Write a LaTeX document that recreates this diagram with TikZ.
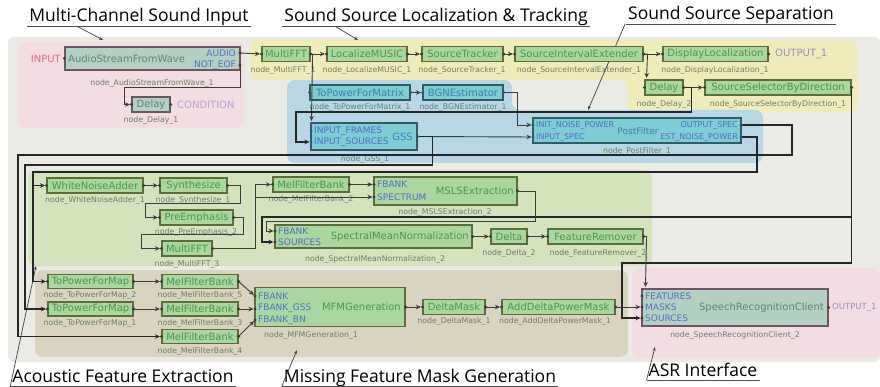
\documentclass[tikz,border=0pt]{standalone}
\usepackage{fontspec}
\usetikzlibrary{arrows.meta}

\newfontfamily\harkfont{DejaVu Sans}
\newfontfamily\titlefont{Open Sans}

\definecolor{fond}{HTML}{ECEAE4}
\definecolor{rose}{HTML}{F3DCE2}
\definecolor{jaune}{HTML}{F0ECB9}
\definecolor{bleu}{HTML}{B7D7E6}
\definecolor{vert}{HTML}{D4E2BE}
\definecolor{beige}{HTML}{DAD3C0}
\definecolor{grnfill}{HTML}{A9D79F}
\definecolor{grnline}{HTML}{5A6E3C}
\definecolor{grntext}{HTML}{4A954A}
\definecolor{bluefill}{HTML}{7DCDD2}
\definecolor{blueline}{HTML}{325A64}
\definecolor{bluetext}{HTML}{3C82AA}
\definecolor{grayfill}{HTML}{B4D0C3}
\definecolor{grayline}{HTML}{695564}
\definecolor{graytext}{HTML}{5A8278}
\definecolor{porttext}{HTML}{506EC8}
\definecolor{idtext}{HTML}{6E7D69}
\definecolor{wirecol}{HTML}{3C3C3C}
\definecolor{inputcol}{HTML}{E66E82}
\definecolor{condcol}{HTML}{BEA0D2}
\definecolor{outcol}{HTML}{9A8CC8}

\begin{document}
\begin{tikzpicture}[x=1pt, y=-1pt, >={Stealth[length=5pt, width=4.5pt]},
    mod node/.style={draw, line width=1.1pt, inner sep=0pt, minimum height=15pt, font=\harkfont\fontsize{10}{10}\selectfont},
    green node/.style={mod node, fill=grnfill, draw=grnline, text=grntext},
    blue node/.style={mod node, fill=bluefill, draw=blueline, text=bluetext},
    gray node/.style={mod node, fill=grayfill, draw=grayline, text=graytext},
    name text/.style={inner sep=0pt, font=\harkfont\fontsize{10}{10}\selectfont},
    port text/.style={inner sep=0pt, text=porttext, font=\harkfont\fontsize{9}{9}\selectfont},
    small port/.style={port text, font=\harkfont\fontsize{8}{8}\selectfont},
    id node/.style={inner sep=0pt, text=idtext, font=\harkfont\fontsize{7.8}{7.8}\selectfont},
    wire/.style={draw=wirecol, line width=0.9pt, ->, shorten >=1.5pt},
    bus/.style={wire, draw=black!85, line width=1.4pt},
    title node/.style={inner xsep=2pt, inner ysep=0.5pt, text depth=3.5pt, font=\titlefont\fontsize{17.5}{17.5}\selectfont},
    pointer/.style={draw=black!75, line width=0.7pt, -{Stealth[length=4pt, width=3pt]}}]

    \useasboundingbox (0,0) rectangle (880,387);

    % fond et zones
    \fill[fond, rounded corners=6pt] (8,37) rectangle (880,362);
    \fill[rose, rounded corners=8pt] (18,42) rectangle (244,128);
    \fill[jaune, rounded corners=8pt] (250,40) -- (858,40) -- (858,112) -- (628,112) -- (628,80) -- (250,80) -- cycle;
    \fill[bleu, rounded corners=8pt] (287,80) -- (512,80) -- (512,110) -- (763,110) -- (763,163) -- (287,163) -- cycle;
    \fill[vert, rounded corners=8pt] (28,170) rectangle (652,266);
    \fill[beige, rounded corners=8pt] (35,270) rectangle (628,357);
    \fill[rose, rounded corners=8pt] (632,268) rectangle (880,358);

    % titres
    \node[title node, anchor=base] (t-input) at (139,22) {Multi-Channel Sound Input};
    \node[title node, anchor=base] (t-loc) at (436,22) {Sound Source Localization \& Tracking};
    \node[title node, anchor=base] (t-sep) at (731,20) {Sound Source Separation};
    \node[title node, anchor=base] (t-feat) at (123,382) {Acoustic Feature Extraction};
    \node[title node, anchor=base] (t-mask) at (420,382) {Missing Feature Mask Generation};
    \node[title node, anchor=base] (t-asr) at (703,376) {ASR Interface};

    \draw[line width=0.8pt, black!70] (t-input.south west) -- (t-input.south east);
    \draw[line width=0.8pt, black!70] (t-loc.south west) -- (t-loc.south east);
    \draw[line width=0.8pt, black!70] (t-sep.south west) -- (t-sep.south east);
    \draw[line width=0.8pt, black!70] (t-feat.south west) -- (t-feat.south east);
    \draw[line width=0.8pt, black!70] (t-mask.south west) -- (t-mask.south east);
    \draw[line width=0.8pt, black!70] (t-asr.south west) -- (t-asr.south east);

    \coordinate (p-input) at (103,40);
    \coordinate (p-loc) at (358,40);
    \coordinate (p-sep) at (588,110);
    \coordinate (p-feat) at (36,266);
    \coordinate (p-mask) at (297,350);
    \coordinate (p-asr) at (655,347);
    \draw[pointer] ([xshift=-62pt]t-input.south) -- (p-input);
    \draw[pointer] ([xshift=-101pt]t-loc.south) -- (p-loc);
    \draw[pointer] ([xshift=-106pt]t-sep.south) -- (p-sep);
    \draw[pointer] (t-feat.south west) -- (p-feat);
    \draw[pointer] (t-mask.south west) -- (p-mask);
    \draw[pointer] (t-asr.south west) -- (p-asr);

    % entree multicanal
    \node[gray node, minimum width=175pt, minimum height=23pt] (asfw) at (152.5,58.5) {};
    \node[name text, text=graytext, anchor=west] (asfw-name) at (68,58.5) {AudioStreamFromWave};
    \coordinate (asfw-audio) at (240,53);
    \coordinate (asfw-eof) at (240,65);
    \node[port text, anchor=east] (asfw-p1) at (236,53) {AUDIO};
    \node[port text, anchor=east] (asfw-p2) at (236,65) {NOT\_EOF};
    \node[name text, text=inputcol, anchor=east] (input) at (61,58.5) {INPUT};
    \node[id node] (asfw-id) at (152,83) {node\_AudioStreamFromWave\_1};
    \node[gray node, minimum width=38pt] (delay1) at (151,104.5) {Delay};
    \node[name text, text=condcol, anchor=west] (cond) at (177,104.5) {CONDITION};
    \node[id node] (delay1-id) at (151,120) {node\_Delay\_1};

    % localisation et suivi
    \node[green node, minimum width=48pt] (mfft1) at (286,54) {MultiFFT};
    \node[green node, minimum width=80pt] (locmusic) at (367,54) {LocalizeMUSIC};
    \node[green node, minimum width=81pt] (srctrack) at (462.5,54) {SourceTracker};
    \node[green node, minimum width=128pt] (sie) at (579,54) {SourceIntervalExtender};
    \node[green node, minimum width=105pt] (disploc) at (715.5,54) {DisplayLocalization};
    \node[name text, text=outcol, anchor=west] (out1) at (775,54) {OUTPUT\_1};
    \node[green node, minimum width=38pt] (delay2) at (664,87.5) {Delay};
    \node[green node, minimum width=146pt] (ssbd) at (778,87.5) {SourceSelectorByDirection};
    \node[id node] (mfft1-id) at (283,70) {node\_MultiFFT\_1};
    \node[id node] (locmusic-id) at (367,70) {node\_LocalizeMUSIC\_1};
    \node[id node] (srctrack-id) at (462,70) {node\_SourceTracker\_1};
    \node[id node] (sie-id) at (579,70) {node\_SourceIntervalExtender\_1};
    \node[id node] (disploc-id) at (715,70) {node\_DisplayLocalization\_1};
    \node[id node] (delay2-id) at (664,104) {node\_Delay\_2};
    \node[id node] (ssbd-id) at (778,104) {node\_SourceSelectorByDirection\_1};

    % separation
    \node[blue node, minimum width=100pt] (tpfmx) at (360,92.5) {ToPowerForMatrix};
    \node[blue node, minimum width=80pt] (bgne) at (463,92.5) {BGNEstimator};
    \node[blue node, minimum width=106pt, minimum height=27pt] (gss) at (364,136.5) {};
    \node[name text, text=bluetext, anchor=east] (gss-name) at (413,136.5) {GSS};
    \coordinate (gss-frames) at (311,131);
    \coordinate (gss-sources) at (311,142);
    \node[port text, anchor=west] (gss-p1) at (314,131) {INPUT\_FRAMES};
    \node[port text, anchor=west] (gss-p2) at (314,142) {INPUT\_SOURCES};
    \node[blue node, minimum width=208pt, minimum height=25pt] (pf) at (637,130.5) {};
    \node[name text, text=bluetext, font=\harkfont\fontsize{9}{9}\selectfont] (pf-name) at (638,131) {PostFilter};
    \coordinate (pf-init) at (533,125);
    \coordinate (pf-spec) at (533,137);
    \coordinate (pf-out) at (741,125);
    \coordinate (pf-noise) at (741,137);
    \node[small port, anchor=west] (pf-p1) at (536,125) {INIT\_NOISE\_POWER};
    \node[small port, anchor=west] (pf-p2) at (536,137) {INPUT\_SPEC};
    \node[small port, anchor=east] (pf-p3) at (738,125) {OUTPUT\_SPEC};
    \node[small port, anchor=east] (pf-p4) at (738,137) {EST\_NOISE\_POWER};
    \node[id node] (tpfmx-id) at (360,107) {node\_ToPowerForMatrix\_1};
    \node[id node] (bgne-id) at (463,107) {node\_BGNEstimator\_1};
    \node[id node] (gss-id) at (365,159) {node\_GSS\_1};
    \node[id node] (pf-id) at (637,151) {node\_PostFilter\_1};

    % extraction des caracteristiques
    \node[green node, minimum width=96pt] (wna) at (95,185.5) {WhiteNoiseAdder};
    \node[green node, minimum width=67pt] (synth) at (193.5,185.5) {Synthesize};
    \node[green node, minimum width=73pt] (preemph) at (196.5,217.5) {PreEmphasis};
    \node[green node, minimum width=50pt] (mfft3) at (187,248.5) {MultiFFT};
    \node[green node, minimum width=76pt] (mfb2) at (311,184.5) {MelFilterBank};
    \node[green node, minimum width=143pt, minimum height=28pt] (msls) at (445.5,191) {};
    \node[name text, text=grntext, anchor=east] (msls-name) at (514,191) {MSLSExtraction};
    \coordinate (msls-fbank) at (374,184.5);
    \coordinate (msls-spec) at (374,197);
    \node[port text, anchor=west] (msls-p1) at (377,184.5) {FBANK};
    \node[port text, anchor=west] (msls-p2) at (377,197) {SPECTRUM};
    \node[green node, minimum width=197pt, minimum height=23pt] (smn) at (373.5,236.5) {};
    \node[name text, text=grntext, anchor=east] (smn-name) at (469,236.5) {SpectralMeanNormalization};
    \coordinate (smn-fbank) at (275,231);
    \coordinate (smn-src) at (275,242);
    \node[port text, anchor=west] (smn-p1) at (278,231) {FBANK};
    \node[port text, anchor=west] (smn-p2) at (278,242) {SOURCES};
    \node[green node, minimum width=36pt] (delta2) at (509,236.5) {Delta};
    \node[green node, minimum width=95pt] (fremove) at (595.5,236.5) {FeatureRemover};
    \node[id node] (wna-id) at (95,200) {node\_WhiteNoiseAdder\_1};
    \node[id node] (synth-id) at (193,200) {node\_Synthesize\_1};
    \node[id node] (preemph-id) at (196,232) {node\_PreEmphasis\_2};
    \node[id node] (mfft3-id) at (187,264) {node\_MultiFFT\_3};
    \node[id node] (mfb2-id) at (311,199) {node\_MelFilterBank\_2};
    \node[id node] (msls-id) at (445,212) {node\_MSLSExtraction\_2};
    \node[id node] (smn-id) at (375,259) {node\_SpectralMeanNormalization\_2};
    \node[id node] (delta2-id) at (509,253) {node\_Delta\_2};
    \node[id node] (fremove-id) at (598,253) {node\_FeatureRemover\_2};

    % generation du masque
    \node[green node, minimum width=85pt, minimum height=14pt] (tpfm2) at (90.5,281.5) {ToPowerForMap};
    \node[green node, minimum width=85pt, minimum height=14pt] (tpfm1) at (90.5,309) {ToPowerForMap};
    \node[green node, minimum width=76pt, minimum height=14pt] (mfb5) at (200,281.5) {MelFilterBank};
    \node[green node, minimum width=76pt, minimum height=14pt] (mfb3) at (200,309) {MelFilterBank};
    \node[green node, minimum width=76pt, minimum height=14pt] (mfb4) at (200,336.5) {MelFilterBank};
    \node[green node, minimum width=150pt, minimum height=39pt] (mfm) at (330,307) {};
    \node[name text, text=grntext, anchor=east] (mfm-name) at (401,307) {MFMGeneration};
    \coordinate (mfm-fbank) at (255,296);
    \coordinate (mfm-gss) at (255,309);
    \coordinate (mfm-bn) at (255,320);
    \node[port text, anchor=west] (mfm-p1) at (258,296) {FBANK};
    \node[port text, anchor=west] (mfm-p2) at (258,308) {FBANK\_GSS};
    \node[port text, anchor=west] (mfm-p3) at (258,320) {FBANK\_BN};
    \node[green node, minimum width=62pt] (dmask) at (454,307) {DeltaMask};
    \node[green node, minimum width=113pt] (adpm) at (558.5,307) {AddDeltaPowerMask};
    \node[id node] (tpfm2-id) at (90,295) {node\_ToPowerForMap\_2};
    \node[id node] (tpfm1-id) at (90,323) {node\_ToPowerForMap\_1};
    \node[id node] (mfb5-id) at (200,295) {node\_MelFilterBank\_5};
    \node[id node] (mfb3-id) at (200,323) {node\_MelFilterBank\_3};
    \node[id node] (mfb4-id) at (200,351) {node\_MelFilterBank\_4};
    \node[id node] (mfm-id) at (311,335) {node\_MFMGeneration\_1};
    \node[id node] (dmask-id) at (454,321) {node\_DeltaMask\_1};
    \node[id node] (adpm-id) at (555,321) {node\_AddDeltaPowerMask\_1};

    % reconnaissance
    \node[gray node, minimum width=186pt, minimum height=37pt] (src) at (735,307.5) {};
    \node[name text, text=graytext, anchor=east] (src-name) at (824,307.5) {SpeechRecognitionClient};
    \node[name text, text=outcol, anchor=west, font=\harkfont\fontsize{8.5}{8.5}\selectfont] (out2) at (832,307.5) {OUTPUT\_1};
    \coordinate (src-feat) at (642,296);
    \coordinate (src-mask) at (642,307);
    \coordinate (src-srcs) at (642,318);
    \node[port text, anchor=west] (src-p1) at (645,296) {FEATURES};
    \node[port text, anchor=west] (src-p2) at (645,307) {MASKS};
    \node[port text, anchor=west] (src-p3) at (645,318) {SOURCES};
    \node[id node] (src-id) at (735,335) {node\_SpeechRecognitionClient\_2};

    % liaisons
    \draw[wire] (asfw-audio) -- (mfft1.west);
    \draw[wire] (asfw-eof) -- ++(0,22) -| ([xshift=-7pt]delay1.west) -- (delay1.west);
    \draw[wire] (mfft1.east) -- (locmusic.west);
    \draw[wire] (locmusic.east) -- (srctrack.west);
    \draw[wire] (srctrack.east) -- (sie.west);
    \draw[wire] (sie.east) -- (disploc.west);
    \draw[wire] (sie.east) -- ++(4,0) -- ([xshift=2pt]delay2.north west);
    \draw[wire] (delay2.east) -- (ssbd.west);
    \draw[wire] (mfft1.east) -- ++(2,0) -- ([xshift=1pt]gss.north west);
    \draw[wire] (tpfmx.east) -- (bgne.west);
    \draw[wire] (bgne.east) -- ++(14,0) |- (pf-init);
    \draw[wire] (gss.east) -- (pf-spec);
    \draw[bus] (delay2.east) -- ++(8,0) |- (296,112) |- (gss-sources);
    \draw[bus] (gss.east) -- ++(15,0) |- (25,165) |- (tpfm1.west);
    \draw[bus] (pf-out) -- ++(51,0) |- (18,155) |- (mfb4.west);
    \draw[bus] (pf-noise) -- ++(16,0) |- (33,172) |- (tpfm2.west);
    \coordinate (noise-br) at (33,185.5);
    \draw[bus] (noise-br) -- (wna.west);
    \draw[bus] (ssbd.east) |- (622,263) |- (src-srcs);
    \coordinate (sel-br) at (851,217);
    \draw[bus] (sel-br) -| ([xshift=-13pt]smn-src) -- (smn-src);

    \draw[wire] (wna.east) -- (synth.west);
    \draw[wire] (synth.east) -- ++(13,0) -- ++(0,17.5) -| ([xshift=-14pt]preemph.west) -- (preemph.west);
    \draw[wire] (preemph.east) -- ++(10,0) -- ++(0,16.5) -| ([xshift=-20pt]mfft3.west) -- (mfft3.west);
    \draw[wire] (mfft3.east) -- ++(43,0) |- (mfb2.west);
    \coordinate (spec-br) at (255,197);
    \draw[wire] (spec-br) -- (msls-spec);
    \draw[wire] (mfb2.east) -- (msls-fbank);
    \draw[wire] (msls.east) -- ++(18,0) -- ++(0,30) -| ([xshift=-9pt]smn-fbank) -- (smn-fbank);
    \draw[wire] (smn.east) -- (delta2.west);
    \draw[wire] (delta2.east) -- (fremove.west);
    \draw[wire] (fremove.east) -- ++(3,0) -- ([xshift=4pt]src.north west);

    \draw[wire] (tpfm2.east) -- (mfb5.west);
    \draw[wire] (tpfm1.east) -- (mfb3.west);
    \draw[wire] (mfb5.east) -- (mfm-fbank);
    \draw[wire] (mfb3.east) -- (mfm-gss);
    \draw[wire] (mfb4.east) -- (mfm-bn);
    \draw[wire] (mfm.east) -- (dmask.west);
    \draw[wire] (dmask.east) -- (adpm.west);
    \draw[wire] (adpm.east) -- (src-mask);

    % ports
    \fill[wirecol] (asfw.west) circle (1.7pt) (asfw-audio) circle (1.7pt) (asfw-eof) circle (1.7pt)
        (delay1.west) circle (1.7pt) (delay1.east) circle (1.7pt);
    \fill[wirecol] (mfft1.west) circle (1.7pt) (mfft1.east) circle (1.7pt)
        (locmusic.west) circle (1.7pt) (locmusic.east) circle (1.7pt)
        (srctrack.west) circle (1.7pt) (srctrack.east) circle (1.7pt)
        (sie.west) circle (1.7pt) (sie.east) circle (1.7pt)
        (disploc.west) circle (1.7pt) (disploc.east) circle (1.7pt)
        (delay2.west) circle (1.7pt) (delay2.east) circle (1.7pt)
        (ssbd.west) circle (1.7pt) (ssbd.east) circle (1.7pt);
    \fill[blueline] (tpfmx.west) circle (1.7pt) (tpfmx.east) circle (1.7pt)
        (bgne.west) circle (1.7pt) (bgne.east) circle (1.7pt)
        (gss-frames) circle (1.7pt) (gss-sources) circle (1.7pt) (gss.east) circle (1.7pt)
        (pf-init) circle (1.7pt) (pf-spec) circle (1.7pt) (pf-out) circle (1.7pt) (pf-noise) circle (1.7pt);
    \fill[wirecol] (wna.west) circle (1.7pt) (wna.east) circle (1.7pt)
        (synth.west) circle (1.7pt) (synth.east) circle (1.7pt)
        (preemph.west) circle (1.7pt) (preemph.east) circle (1.7pt)
        (mfft3.west) circle (1.7pt) (mfft3.east) circle (1.7pt)
        (mfb2.west) circle (1.7pt) (mfb2.east) circle (1.7pt)
        (msls-fbank) circle (1.7pt) (msls-spec) circle (1.7pt) (msls.east) circle (1.7pt)
        (smn-fbank) circle (1.7pt) (smn-src) circle (1.7pt) (smn.east) circle (1.7pt)
        (delta2.west) circle (1.7pt) (delta2.east) circle (1.7pt)
        (fremove.west) circle (1.7pt) (fremove.east) circle (1.7pt);
    \fill[wirecol] (tpfm2.west) circle (1.7pt) (tpfm2.east) circle (1.7pt)
        (tpfm1.west) circle (1.7pt) (tpfm1.east) circle (1.7pt)
        (mfb5.west) circle (1.7pt) (mfb5.east) circle (1.7pt)
        (mfb3.west) circle (1.7pt) (mfb3.east) circle (1.7pt)
        (mfb4.west) circle (1.7pt) (mfb4.east) circle (1.7pt)
        (mfm-fbank) circle (1.7pt) (mfm-gss) circle (1.7pt) (mfm-bn) circle (1.7pt) (mfm.east) circle (1.7pt)
        (dmask.west) circle (1.7pt) (dmask.east) circle (1.7pt)
        (adpm.west) circle (1.7pt) (adpm.east) circle (1.7pt)
        (src-feat) circle (1.7pt) (src-mask) circle (1.7pt) (src-srcs) circle (1.7pt) (src.east) circle (1.7pt);
\end{tikzpicture}
\end{document}
